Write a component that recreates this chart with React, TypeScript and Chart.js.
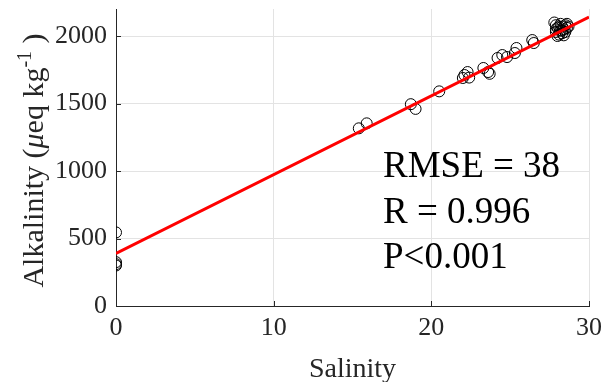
import React, { useEffect, useRef } from "react";
import { Chart, registerables } from "chart.js";

Chart.register(...registerables);

// ---- data ----
const salinity = [
  0, 0, 0, 0,
  15.4, 15.9, 18.7, 19.0, 20.5,
  22.0, 22.1, 22.3, 22.4, 23.3, 23.6, 23.7,
  24.2, 24.5, 24.8, 25.3, 25.4, 26.4, 26.5,
  27.8, 27.9, 28.0, 27.9, 28.1, 28.0, 28.2, 28.3, 28.4, 28.5,
  28.6, 28.3, 28.5, 28.6, 28.2, 28.4, 28.1, 27.9, 28.7, 28.3,
];
const alkalinity = [
  545, 325, 310, 300,
  1316, 1353, 1495, 1460, 1590,
  1689, 1711, 1733, 1692, 1763, 1733, 1720,
  1837, 1859, 1844, 1874, 1911, 1970, 1948,
  2100, 2080, 2060, 2030, 2010, 2000, 2040, 2070, 2050, 2080,
  2060, 2020, 2030, 2090, 2090, 2005, 2070, 2050, 2070, 2040,
];
const fitX = [0, 30];
const fitY = [390, 2140];

const xTickValues = [0, 10, 20, 30];
const yTickValues = [0, 500, 1000, 1500, 2000];
const xTitle = "Salinity";
const yTitleParts = ["Alkalinity (", "μ", "eq kg", "-1", " )"];
const statLines = ["RMSE = 38", "R = 0.996", "P<0.001"];

const FONT = '"Liberation Serif", "Times New Roman", serif';
const AXIS = "#262626";

const overlay = {
  id: "overlay",
  afterDraw(chart: any) {
    const ctx = chart.ctx;
    const area = chart.chartArea;
    const xs = chart.scales.x;
    const ys = chart.scales.y;
    ctx.save();
    // inward tick marks
    ctx.strokeStyle = AXIS;
    ctx.lineWidth = 1;
    ctx.beginPath();
    for (const v of xTickValues) {
      const px = Math.round(xs.getPixelForValue(v)) + 0.5;
      ctx.moveTo(px, area.bottom);
      ctx.lineTo(px, area.bottom - 5);
    }
    for (const v of yTickValues) {
      const py = Math.round(ys.getPixelForValue(v)) + 0.5;
      ctx.moveTo(area.left, py);
      ctx.lineTo(area.left + 5, py);
    }
    ctx.stroke();

    // x title
    ctx.fillStyle = AXIS;
    ctx.font = `28px ${FONT}`;
    ctx.textAlign = "center";
    ctx.textBaseline = "alphabetic";
    ctx.fillText(xTitle, (area.left + area.right) / 2, 377);

    // y title with italic mu and superscript
    const fonts = [
      `30px ${FONT}`,
      `italic 30px ${FONT}`,
      `30px ${FONT}`,
      `20px ${FONT}`,
      `30px ${FONT}`,
    ];
    const dys = [0, 0, 0, -12, 0];
    let total = 0;
    const widths = yTitleParts.map((t, i) => {
      ctx.font = fonts[i];
      const w = ctx.measureText(t).width;
      total += w;
      return w;
    });
    ctx.translate(43, (area.top + area.bottom) / 2 + 3);
    ctx.rotate(-Math.PI / 2);
    ctx.textAlign = "left";
    let x = -total / 2;
    yTitleParts.forEach((t, i) => {
      ctx.font = fonts[i];
      ctx.fillText(t, x, dys[i]);
      x += widths[i];
    });
    ctx.setTransform(1, 0, 0, 1, 0, 0);

    // stats text
    ctx.fillStyle = "#000";
    ctx.font = `37px ${FONT}`;
    ctx.textAlign = "left";
    const baselines = [177, 223, 268];
    statLines.forEach((s, i) => ctx.fillText(s, 383, baselines[i]));
    ctx.restore();
  },
};

export default function App() {
  const ref = useRef<HTMLCanvasElement>(null);
  useEffect(() => {
    if (!ref.current) return;
    const chart = new Chart(ref.current, {
      type: "scatter",
      data: {
        datasets: [
          {
            type: "line",
            data: fitX.map((x, i) => ({ x, y: fitY[i] })),
            borderColor: "#ff0000",
            borderWidth: 3,
            pointRadius: 0,
            fill: false,
          } as any,
          {
            data: salinity.map((x, i) => ({ x, y: alkalinity[i] })),
            pointStyle: "circle",
            pointRadius: 5.5,
            borderColor: "#000000",
            borderWidth: 1,
            backgroundColor: "rgba(0,0,0,0)",
          },
        ],
      },
      options: {
        responsive: false,
        animation: false,
        devicePixelRatio: 1,
        layout: { padding: { top: 9, right: 16, left: 0, bottom: 0 } },
        plugins: { legend: { display: false }, tooltip: { enabled: false } },
        scales: {
          x: {
            type: "linear",
            min: 0,
            max: 30,
            afterBuildTicks: (s: any) => {
              s.ticks = xTickValues.map((v) => ({ value: v }));
            },
            afterFit: (s: any) => {
              s.height = 76;
              s.paddingLeft = 0;
              s.paddingRight = 0;
            },
            grid: { color: "#e3e3e3", lineWidth: 1, drawTicks: false },
            border: { display: true, color: AXIS, width: 1 },
            ticks: {
              color: AXIS,
              font: { family: FONT, size: 26 },
              padding: 7,
              maxRotation: 0,
              callback: (v: any) => String(v),
            },
          },
          y: {
            type: "linear",
            min: 0,
            max: 2200,
            afterBuildTicks: (s: any) => {
              s.ticks = yTickValues.map((v) => ({ value: v }));
            },
            afterFit: (s: any) => {
              s.width = 116;
              s.paddingTop = 0;
              s.paddingBottom = 0;
            },
            grid: { color: "#e3e3e3", lineWidth: 1, drawTicks: false },
            border: { display: true, color: AXIS, width: 1 },
            ticks: {
              color: AXIS,
              font: { family: FONT, size: 26 },
              padding: 9,
              callback: (v: any) => String(v),
            },
          },
        },
      },
      plugins: [overlay],
    });
    return () => chart.destroy();
  }, []);
  return (
    <div style={{ position: "fixed", left: 0, top: 0, width: 605, height: 382, background: "#fff" }}>
      <canvas ref={ref} width={605} height={382} />
    </div>
  );
}
